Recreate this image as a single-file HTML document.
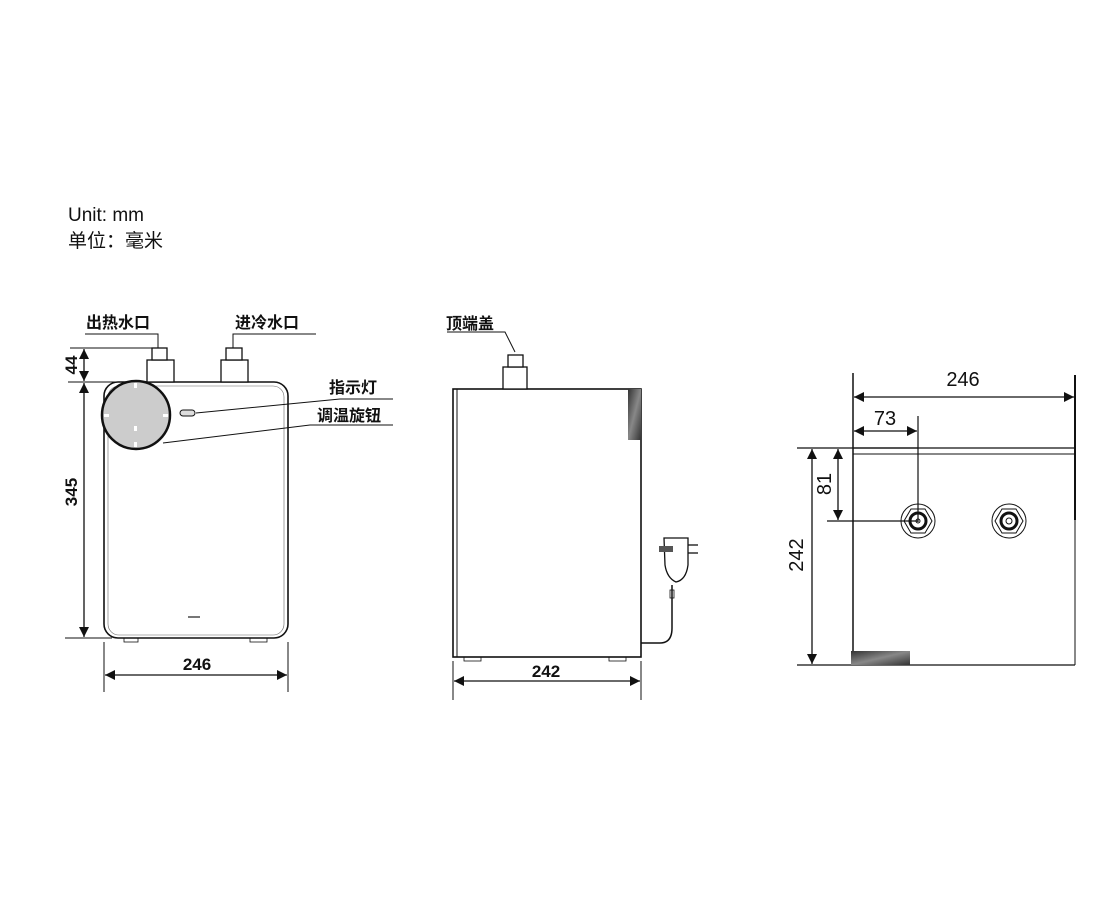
<!DOCTYPE html>
<html><head><meta charset="utf-8"><style>
body{margin:0;background:#fff}
svg{display:block}
text{font-family:"Liberation Sans","Noto Sans CJK SC",sans-serif;fill:#111}
.b{font-weight:bold}
</style></head><body>
<svg width="1120" height="920" viewBox="0 0 1120 920" xmlns="http://www.w3.org/2000/svg">
<defs>
<marker id="a" viewBox="0 0 10 10" refX="10" refY="5" markerWidth="11" markerHeight="10" orient="auto-start-reverse" markerUnits="userSpaceOnUse"><path d="M0,0 L10,5 L0,10z" fill="#111"/></marker>
<linearGradient id="g" x1="0" y1="0" x2="1" y2="1"><stop offset="0" stop-color="#333"/><stop offset="0.5" stop-color="#888"/><stop offset="1" stop-color="#333"/></linearGradient>
</defs>
<text x="68" y="221" font-size="19">Unit: mm</text>
<text x="68" y="247" font-size="19">单位：毫米</text>

<!-- FRONT VIEW -->
<g stroke="#111" fill="none" stroke-width="1.3">
<rect x="104" y="382" width="184" height="256" rx="14" fill="#fff" stroke-width="1.6"/>
<rect x="108" y="386" width="176" height="249" rx="11" stroke-width="0.6" stroke="#666"/>
<rect x="147" y="360" width="27" height="22" fill="#fff"/>
<rect x="152" y="348" width="15" height="12" fill="#fff"/>
<rect x="221" y="360" width="27" height="22" fill="#fff"/>
<rect x="226" y="348" width="16" height="12" fill="#fff"/>
<circle cx="136" cy="415" r="34" fill="#ccc" stroke-width="2.5"/>
<rect x="180" y="410" width="15" height="6" rx="3" fill="#ddd" stroke-width="1"/>
<rect x="124" y="638" width="14" height="4" stroke-width="0.8"/>
<rect x="250" y="638" width="17" height="4" stroke-width="0.8"/>
<polyline points="85,334 158,334 158,348" stroke-width="1"/>
<polyline points="316,334 233,334 233,348" stroke-width="1"/>
<polyline points="196,413 340,399 393,399" stroke-width="1"/>
<polyline points="163,443 310,425 393,425" stroke-width="1"/>
<line x1="70" y1="348" x2="160" y2="348" stroke-width="1"/>
<line x1="68" y1="382" x2="120" y2="382" stroke-width="1"/>
<line x1="65" y1="638" x2="112" y2="638" stroke-width="1"/>
<line x1="84" y1="349" x2="84" y2="381" marker-start="url(#a)" marker-end="url(#a)"/>
<line x1="84" y1="383" x2="84" y2="637" marker-start="url(#a)" marker-end="url(#a)"/>
<line x1="104" y1="642" x2="104" y2="692" stroke-width="1"/>
<line x1="288" y1="642" x2="288" y2="692" stroke-width="1"/>
<line x1="105" y1="675" x2="287" y2="675" marker-start="url(#a)" marker-end="url(#a)"/>
</g>
<g fill="#fff" stroke="none">
<rect x="134" y="383" width="3" height="5"/><rect x="134" y="442" width="3" height="5"/>
<rect x="104" y="414" width="5" height="3"/><rect x="163" y="414" width="5" height="3"/>
<rect x="134" y="426" width="3" height="5"/>
</g>
<rect x="188" y="616" width="12" height="2" fill="#777"/>
<text x="86" y="328" font-size="16" class="b">出热水口</text>
<text x="235" y="328" font-size="16" class="b">进冷水口</text>
<text x="329" y="393" font-size="16" class="b">指示灯</text>
<text x="317" y="421" font-size="16" class="b">调温旋钮</text>
<text x="197" y="670" font-size="17" class="b" text-anchor="middle">246</text>
<text transform="translate(77,492) rotate(-90)" font-size="17" class="b" text-anchor="middle">345</text>
<text transform="translate(77,365) rotate(-90)" font-size="17" class="b" text-anchor="middle">44</text>

<!-- SIDE VIEW -->
<g stroke="#111" fill="none" stroke-width="1.3">
<rect x="453" y="389" width="188" height="268" fill="#fff" stroke-width="1.6"/>
<line x1="457" y1="389" x2="457" y2="657" stroke-width="1"/>
<rect x="628" y="389" width="13" height="51" fill="url(#g)" stroke="none"/>
<rect x="503" y="367" width="24" height="22" fill="#fff"/>
<rect x="508" y="355" width="15" height="12" fill="#fff"/>
<polyline points="447,332 505,332 515,352" stroke-width="1"/>
<rect x="464" y="657" width="17" height="4" stroke-width="0.8"/>
<rect x="609" y="657" width="17" height="4" stroke-width="0.8"/>
<path d="M641,643 L660,643 Q672,643 672,628 L672,585" stroke-width="1.5"/>
<path d="M664,538 L688,538 L688,565 Q686,580 676,582 Q667,578 665,565 Z" fill="#fff" stroke-width="1.3"/>
<rect x="659" y="546" width="14" height="6" fill="#555" stroke="none"/>
<line x1="688" y1="545" x2="698" y2="545"/><line x1="688" y1="553" x2="698" y2="553"/>
<rect x="670" y="590" width="4" height="8" stroke-width="0.8"/>
<line x1="453" y1="661" x2="453" y2="700" stroke-width="1"/>
<line x1="641" y1="661" x2="641" y2="700" stroke-width="1"/>
<line x1="454" y1="681" x2="640" y2="681" marker-start="url(#a)" marker-end="url(#a)"/>
</g>
<text x="446" y="329" font-size="16" class="b">顶端盖</text>
<text x="546" y="677" font-size="17" class="b" text-anchor="middle">242</text>

<!-- TOP VIEW -->
<g stroke="#111" fill="none" stroke-width="1.3">
<line x1="853" y1="448" x2="1075" y2="448"/>
<line x1="853" y1="454" x2="1075" y2="454" stroke-width="1"/>
<line x1="853" y1="373" x2="853" y2="665" stroke-width="1.5"/>
<line x1="1075" y1="375" x2="1075" y2="520" stroke-width="2"/>
<line x1="1075" y1="520" x2="1075" y2="665" stroke-width="1"/>
<line x1="797" y1="665" x2="1075" y2="665" stroke-width="1.2"/>
<line x1="797" y1="448" x2="918" y2="448"/>
<rect x="851" y="651" width="59" height="14" fill="url(#g)" stroke="none"/>
<line x1="854" y1="397" x2="1074" y2="397" marker-start="url(#a)" marker-end="url(#a)"/>
<line x1="918" y1="416" x2="918" y2="522" stroke-width="1.2"/>
<line x1="854" y1="431" x2="917" y2="431" marker-start="url(#a)" marker-end="url(#a)"/>
<line x1="827" y1="521" x2="918" y2="521" stroke-width="1.2"/>
<line x1="838" y1="449" x2="838" y2="520" marker-start="url(#a)" marker-end="url(#a)"/>
<line x1="812" y1="449" x2="812" y2="664" marker-start="url(#a)" marker-end="url(#a)"/>
<circle cx="918" cy="521" r="17" stroke-width="1"/>
<polygon points="932,521 925,509 911,509 904,521 911,533 925,533" stroke-width="1"/>
<circle cx="918" cy="521" r="8" stroke-width="3"/>
<circle cx="918" cy="521" r="2" stroke-width="1"/>
<circle cx="1009" cy="521" r="17" stroke-width="1"/>
<polygon points="1023,521 1016,509 1002,509 995,521 1002,533 1016,533" stroke-width="1"/>
<circle cx="1009" cy="521" r="8" stroke-width="3"/>
<circle cx="1009" cy="521" r="3" stroke-width="1"/>
</g>
<text x="963" y="386" font-size="20" text-anchor="middle">246</text>
<text x="885" y="425" font-size="20" text-anchor="middle">73</text>
<text transform="translate(831,484) rotate(-90)" font-size="20" text-anchor="middle">81</text>
<text transform="translate(803,555) rotate(-90)" font-size="20" text-anchor="middle">242</text>
</svg>
</body></html>
